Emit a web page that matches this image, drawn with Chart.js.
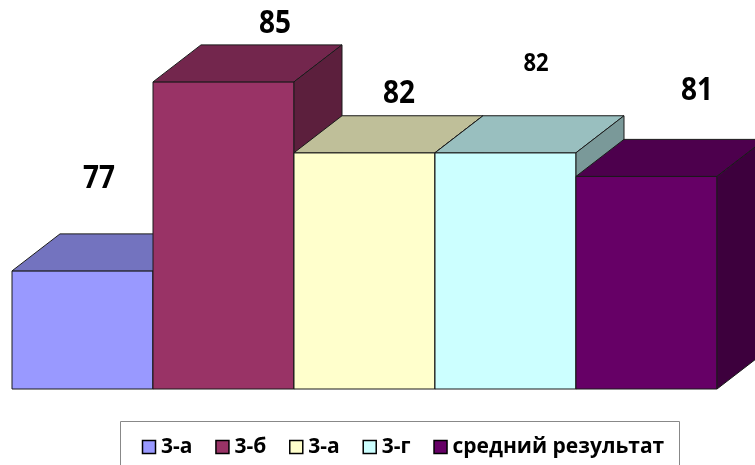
<!DOCTYPE html>
<html>
<head>
<meta charset="utf-8">
<script src="https://cdn.jsdelivr.net/npm/chart.js@4"></script>
<style>
  html, body { margin: 0; padding: 0; background: #fff; }
  #wrap { width: 755px; height: 465px; position: relative; }
</style>
</head>
<body>
<div id="wrap"><canvas id="myChart" width="755" height="465"></canvas></div>
<script>
// Données du graphique
var categories = ['результат'];
var seriesNames = ['3-а', '3-б', '3-а', '3-г', 'средний результат'];
var values = [77, 85, 82, 82, 81];
var yMin = 72;
var yMax = 88;

// Couleurs (face avant, dessus, côté)
var frontColors = ['#9999FF', '#993366', '#FFFFCC', '#CCFFFF', '#660066'];
var topColors = ['#7373BF', '#73264D', '#BFBF99', '#99BFBF', '#4D004D'];
var sideColors = ['#5C5C99', '#5C1F3D', '#99997A', '#7A9999', '#3D003D'];

// Étiquettes : taille et décalage par rapport au coin haut-gauche de la face avant
var labelSizes = [28, 28, 28, 22, 28];
var labelDx = [87, 122, 105, 101, 121];
var labelDy = [-92, -58, -59, -89, -86];

var depthX = 48, depthY = -37;

function poly(ctx, pts, fill) {
    ctx.beginPath();
    ctx.moveTo(pts[0][0], pts[0][1]);
    for (var i = 1; i < pts.length; i++) ctx.lineTo(pts[i][0], pts[i][1]);
    ctx.closePath();
    ctx.fillStyle = fill;
    ctx.fill();
    ctx.stroke();
}

var bars3d = {
    id: 'bars3d',
    beforeDatasetsDraw: function(chart) {
        var ctx = chart.ctx;
        var bottomLimit = chart.chartArea.bottom;
        ctx.save();
        ctx.strokeStyle = '#1a1a1a';
        ctx.lineWidth = 1;
        ctx.lineJoin = 'round';
        chart.data.datasets.forEach(function(ds, i) {
            var el = chart.getDatasetMeta(i).data[0];
            var l = el.x - el.width / 2, r = el.x + el.width / 2;
            var t = el.y, b = Math.min(el.base, bottomLimit);
            // face avant
            poly(ctx, [[l, t], [r, t], [r, b], [l, b]], frontColors[i]);
            // dessus
            poly(ctx, [[l, t], [l + depthX, t + depthY], [r + depthX, t + depthY], [r, t]], topColors[i]);
            // côté
            poly(ctx, [[r, t], [r + depthX, t + depthY], [r + depthX, b + depthY], [r, b]], sideColors[i]);
        });
        // valeurs
        ctx.fillStyle = '#000';
        ctx.textAlign = 'center';
        ctx.textBaseline = 'middle';
        chart.data.datasets.forEach(function(ds, i) {
            var el = chart.getDatasetMeta(i).data[0];
            var l = el.x - el.width / 2;
            ctx.save();
            ctx.translate(l + labelDx[i], el.y + labelDy[i]);
            ctx.scale(1, 1.15);
            ctx.font = 'bold ' + labelSizes[i] + 'px "Open Sans"';
            ctx.fillText(String(ds.data[0]), 0, 0);
            ctx.restore();
        });
        ctx.restore();
        return false;
    },
    afterDraw: function(chart) {
        // légende dessinée à la main
        var ctx = chart.ctx;
        ctx.save();
        ctx.strokeStyle = '#888';
        ctx.lineWidth = 1;
        ctx.beginPath();
        ctx.moveTo(120.5, 466);
        ctx.lineTo(120.5, 421.5);
        ctx.lineTo(679.5, 421.5);
        ctx.lineTo(679.5, 466);
        ctx.stroke();

        ctx.font = 'bold 21px "Open Sans"';
        ctx.textBaseline = 'middle';
        var x = 142, y = 447;
        chart.data.datasets.forEach(function(ds, i) {
            ctx.fillStyle = frontColors[i];
            ctx.fillRect(x + 0.5, y - 6.5, 13, 13);
            ctx.strokeStyle = '#000';
            ctx.lineWidth = 1.5;
            ctx.strokeRect(x + 0.5, y - 6.5, 13, 13);
            ctx.fillStyle = '#000';
            ctx.fillText(ds.label, x + 19, y);
            x += 19 + ctx.measureText(ds.label).width + 23;
        });
        ctx.restore();
    }
};

var datasets = seriesNames.map(function(name, i) {
    return {
        label: name,
        data: [values[i]],
        backgroundColor: frontColors[i],
        categoryPercentage: 1,
        barPercentage: 1
    };
});

var ctx = document.getElementById('myChart').getContext('2d');
var myChart = new Chart(ctx, {
    type: 'bar',
    data: {
        labels: categories,
        datasets: datasets
    },
    options: {
        responsive: false,
        animation: false,
        layout: {
            padding: { left: 12, right: 38, top: 11, bottom: 76 }
        },
        scales: {
            x: { display: false },
            y: { display: false, min: yMin, max: yMax }
        },
        plugins: {
            legend: { display: false },
            tooltip: { enabled: false }
        }
    },
    plugins: [bars3d]
});
</script>
</body>
</html>
